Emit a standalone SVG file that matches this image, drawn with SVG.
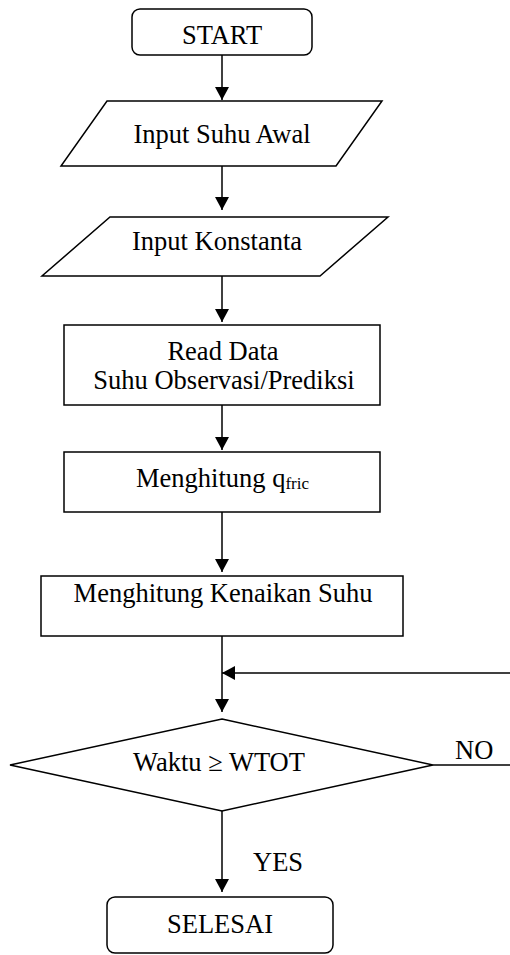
<svg xmlns="http://www.w3.org/2000/svg" width="510" height="955" viewBox="0 0 510 955">
<style>
.s{fill:#fff;stroke:#000;stroke-width:1.5}
.t{font-family:"Liberation Serif","Times New Roman",serif;font-size:26.5px;fill:#000}
.c{stroke:#000;stroke-width:1.5;fill:none}
</style>
<defs>
<marker id="ah" markerUnits="userSpaceOnUse" markerWidth="14" markerHeight="14" viewBox="0 0 13 14" refX="13" refY="7" orient="auto">
<path d="M0,0 L13,7 L0,14 Z" fill="#000"/>
</marker>
</defs>
<rect width="510" height="955" fill="#fff"/>
<g id="connectors">
<line class="c" x1="222" y1="55" x2="222" y2="100" marker-end="url(#ah)"/>
<line class="c" x1="222" y1="166" x2="222" y2="210" marker-end="url(#ah)"/>
<line class="c" x1="222" y1="276" x2="222" y2="322" marker-end="url(#ah)"/>
<line class="c" x1="222" y1="405" x2="222" y2="450" marker-end="url(#ah)"/>
<line class="c" x1="222" y1="512" x2="222" y2="572" marker-end="url(#ah)"/>
<line class="c" x1="222" y1="636" x2="222" y2="712" marker-end="url(#ah)"/>
<line class="c" x1="510" y1="673" x2="222" y2="673" marker-end="url(#ah)"/>
<line class="c" x1="433" y1="765" x2="510" y2="765"/>
<line class="c" x1="222" y1="811" x2="222" y2="892" marker-end="url(#ah)"/>
<text class="t" x="455" y="759">NO</text>
<text class="t" x="253" y="871">YES</text>
</g>
<g id="start">
<rect class="s" x="132" y="9" width="180" height="46" rx="8"/>
<text class="t" x="222" y="44" text-anchor="middle">START</text>
</g>
<g id="input-suhu">
<polygon class="s" points="107,101 382,101 336,166 61,166"/>
<text class="t" x="222" y="143" text-anchor="middle">Input Suhu Awal</text>
</g>
<g id="input-konstanta">
<polygon class="s" points="110,217 388,217 320,276 42,276"/>
<text class="t" x="132" y="250">Input Konstanta</text>
</g>
<g id="read-data">
<rect class="s" x="64" y="325" width="316" height="80"/>
<text class="t" x="223" y="360" text-anchor="middle">Read Data</text>
<text class="t" x="224" y="389" text-anchor="middle">Suhu Observasi/Prediksi</text>
</g>
<g id="qfric">
<rect class="s" x="64" y="452" width="316" height="60"/>
<text class="t" x="136" y="487">Menghitung q<tspan font-size="17" dy="1.5">fric</tspan></text>
</g>
<g id="kenaikan">
<rect class="s" x="41" y="576" width="362" height="60"/>
<text class="t" x="223" y="602" text-anchor="middle">Menghitung Kenaikan Suhu</text>
</g>
<g id="decision">
<polygon class="s" points="222,719 433,765 222,811 10,765"/>
<text class="t" x="219" y="771" text-anchor="middle">Waktu ≥ WTOT</text>
</g>
<g id="selesai">
<rect class="s" x="107" y="897" width="226" height="56" rx="8"/>
<text class="t" x="220" y="933" text-anchor="middle">SELESAI</text>
</g>
</svg>
